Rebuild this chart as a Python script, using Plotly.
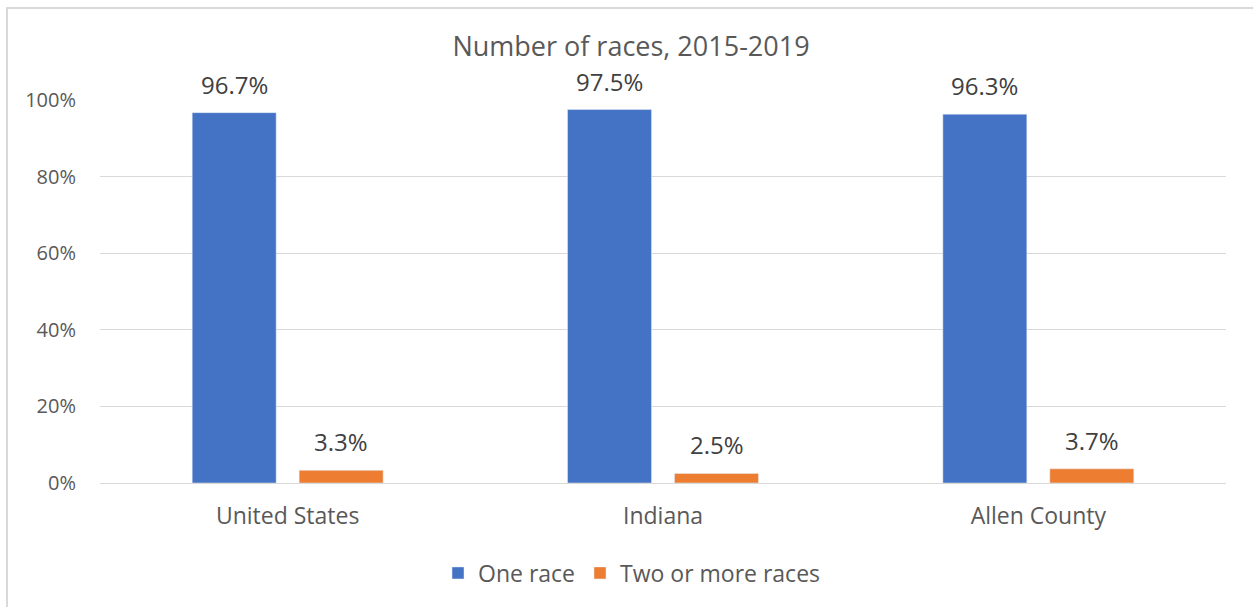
import plotly.graph_objects as go

categories = ["United States", "Indiana", "Allen County"]
one_race = [0.967, 0.975, 0.963]
two_or_more = [0.033, 0.025, 0.037]
tick_vals = [0, 0.2, 0.4, 0.6, 0.8, 1.0]
tick_text = ["0%", "20%", "40%", "60%", "80%", "100%"]

FONT = "Open Sans"
BLUE = "#4472C4"
ORANGE = "#ED7D31"

fig = go.Figure()
fig.add_trace(go.Bar(x=categories, y=one_race, name="One race", marker_color=BLUE))
fig.add_trace(go.Bar(x=categories, y=two_or_more, name="Two or more races", marker_color=ORANGE))

annotations = []
for series, shift in ((one_race, -53.5), (two_or_more, 53.5)):
    for cat, val in zip(categories, series):
        annotations.append(dict(x=cat, y=val, xref="x", yref="y", text=f"{val*100:.1f}%",
                                showarrow=False, xshift=shift, yshift=10, yanchor="bottom",
                                font=dict(size=24, color="#404040", family=FONT)))

fig.update_layout(
    width=1253, height=607,
    margin=dict(l=100, r=27, t=100, b=124),
    paper_bgcolor="white", plot_bgcolor="white",
    barmode="group", bargap=0.43, bargroupgap=0.215,
    font=dict(family=FONT, color="#595959", size=16),
    title=dict(text="Number of races, 2015-2019", x=(631-100)/1126, xref="paper", xanchor="center",
               y=1 - 47/607, yanchor="middle",
               font=dict(size=27, color="#595959", family=FONT)),
    legend=dict(orientation="h", x=(632-100)/1126, xanchor="center", y=-(573-483)/383, yanchor="middle",
                font=dict(size=23, color="#595959"), itemwidth=30, traceorder="normal"),
    annotations=annotations,
    shapes=[dict(type="rect", xref="paper", yref="paper", x0=(7-100)/1126, x1=1.05, y0=-0.4, y1=(483-8)/383,
                 line=dict(color="#D9D9D9", width=2), fillcolor="rgba(0,0,0,0)", layer="below")],
)
fig.update_xaxes(showline=True, linecolor="#D9D9D9", linewidth=1, ticks="", showgrid=False,
                 tickfont=dict(size=23, color="#595959"), ticklabelstandoff=12)
fig.update_yaxes(range=[0, 1.0], tickvals=tick_vals, ticktext=tick_text, showgrid=True,
                 gridcolor="#D9D9D9", gridwidth=1, zeroline=False, ticks="",
                 tickfont=dict(size=20, color="#595959"), ticklabelstandoff=23)

fig.write_html("out.html", config={"displayModeBar": False},
               post_script="document.body.style.margin='0';")
